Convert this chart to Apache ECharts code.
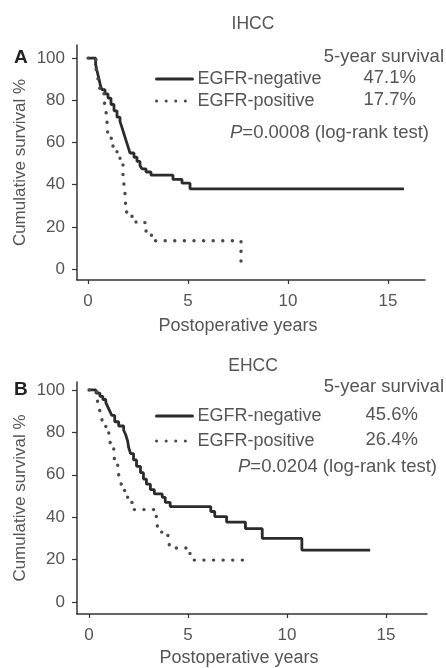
<!DOCTYPE html>
<html>
<head>
<meta charset="utf-8">
<script src="https://cdn.jsdelivr.net/npm/echarts@6/dist/echarts.min.js"></script>
<style>html,body{margin:0;padding:0;background:#fff}#c{width:446px;height:668px}</style>
</head>
<body>
<div id="c"></div>
<script>
// ---- data (years, survival %) ----
const ihccNeg = [[0,100],[0.38,97],[0.45,94],[0.55,90],[0.62,87],[0.7,85],[0.85,83],[1.0,81],[1.15,78],[1.3,75],[1.45,72],[1.6,70],[1.7,67],[1.8,64],[1.9,61],[2.0,58],[2.1,55],[2.3,53],[2.45,51],[2.6,49],[2.7,47.5],[2.9,46],[3.15,44.5],[4.25,42.5],[4.7,40.7],[5.1,38],[15.8,38]];
const ihccPos = [[0,100],[0.4,95],[0.5,90],[0.6,85],[0.8,80],[0.9,75],[0.95,70],[1.0,62],[1.25,58],[1.45,54],[1.6,50],[1.75,44],[1.85,36],[1.88,30],[1.9,27],[2.2,24.5],[2.4,22],[2.85,18],[3.1,16],[3.25,13.4],[7.65,0]];
const ehccNeg = [[0,100],[0.35,98.5],[0.55,97],[0.7,95.5],[0.85,94],[0.95,92],[1.05,90],[1.15,88],[1.3,85],[1.5,83],[1.75,81],[1.85,79],[1.95,76],[2.0,73],[2.1,70],[2.25,67],[2.4,64],[2.6,61],[2.75,58],[2.9,55.6],[3.1,53],[3.3,51],[3.7,49.4],[3.85,47],[4.1,45],[6.15,42.7],[6.35,40.3],[6.95,37.7],[7.9,34.6],[8.75,30],[10.75,24.5],[14.2,24.5]];
const ehccPos = [[0,100],[0.4,96],[0.5,92],[0.6,88],[0.7,84],[0.85,81],[1.0,78],[1.1,74],[1.25,70],[1.3,66],[1.45,62],[1.55,58],[1.65,55],[1.8,51],[1.95,47],[2.2,43.6],[3.4,40],[3.45,36],[3.5,33],[3.85,31.4],[4.0,29],[4.1,25.5],[5.1,21],[5.2,19.8],[7.9,19.8]];
const yTicks = [0,20,40,60,80,100];
const xTicks = [0,5,10,15];
const seriesNames = ['EGFR-negative','EGFR-positive'];
const pctA = ['47.1%','17.7%'];
const pctB = ['45.6%','26.4%'];
const pA = '0.0008';
const pB = '0.0204';

const FONT = 'Liberation Sans, Arial, Helvetica, sans-serif';
const txt = '#555';
const axisCol = '#333';

function xAx(idx, min, max, gap) {
  return {
    gridIndex: idx, type: 'value', min: min, max: max,
    axisLine: {onZero: false, lineStyle: {color: axisCol, width: 1.5}},
    axisTick: {show: true, length: 4, customValues: xTicks, lineStyle: {color: axisCol, width: 1.2}},
    axisLabel: {customValues: xTicks, margin: 13, color: txt, fontSize: 17, fontFamily: FONT},
    splitLine: {show: false},
    name: 'Postoperative years', nameLocation: 'middle', nameGap: gap, nameMoveOverlap: false,
    nameTextStyle: {color: txt, fontSize: 18, fontFamily: FONT, padding: [0, 26, 0, 0]}
  };
}
function yAx(idx, min, max) {
  return {
    gridIndex: idx, type: 'value', min: min, max: max,
    axisLine: {show: true, onZero: false, lineStyle: {color: axisCol, width: 1.5}},
    axisTick: {show: true, length: 5, customValues: yTicks, lineStyle: {color: axisCol, width: 1.2}},
    axisLabel: {customValues: yTicks, margin: 12, color: txt, fontSize: 17, fontFamily: FONT},
    splitLine: {show: false},
    name: 'Cumulative survival %', nameLocation: 'middle', nameGap: 48, nameMoveOverlap: false,
    nameTextStyle: {color: txt, fontSize: 17, fontFamily: FONT}
  };
}
const solidStyle = {color: '#2b2b2b', width: 2.8};
const dotStyle = {color: '#4a4a4a', width: 3.4, type: [0.1, 9.5], cap: 'round'};
function ser(name, data, idx, style) {
  return {name: name, type: 'line', step: 'end', symbol: 'none', xAxisIndex: idx, yAxisIndex: idx,
    data: data, lineStyle: style, itemStyle: {color: style.color}, silent: true, animation: false};
}
function legend(top, gap) {
  return {orient: 'vertical', left: 155, top: top, padding: 0, itemWidth: 36, itemHeight: 18, itemGap: gap,
    data: seriesNames, selectedMode: false,
    itemStyle: {opacity: 0},
    lineStyle: {width: 3, cap: 'round'},
    textStyle: {color: txt, fontSize: 18, fontFamily: FONT, lineHeight: 18}};
}
function t(x, y, s, extra) {
  return {type: 'text', x: x, y: y, style: Object.assign({text: s, fill: txt, font: '18.5px ' + FONT, verticalAlign: 'middle'}, extra || {})};
}
const pRich = {i: {fontStyle: 'italic', fontSize: 18.5, fontFamily: FONT, fill: txt}};

const chart = echarts.init(document.getElementById('c'), null, {renderer: 'canvas'});
chart.setOption({
  backgroundColor: '#fff',
  animation: false,
  title: [
    {text: 'IHCC', left: 248, top: 10, textAlign: 'center', textStyle: {color: txt, fontSize: 17.5, fontWeight: 'normal', fontFamily: FONT}},
    {text: 'EHCC', left: 248, top: 352, textAlign: 'center', textStyle: {color: txt, fontSize: 17.5, fontWeight: 'normal', fontFamily: FONT}}
  ],
  grid: [
    {left: 77, top: 45, width: 348, height: 235},
    {left: 77, top: 382, width: 350, height: 234}
  ],
  xAxis: [xAx(0, -0.55, 16.85, 37), xAx(1, -0.606, 17.07, 35)],
  yAxis: [yAx(0, -5.2, 106.2), yAx(1, -5.61, 103.74)],
  legend: [legend(70, 4), legend(407, 7)],
  series: [
    ser(seriesNames[0], ihccNeg, 0, solidStyle),
    ser(seriesNames[1], ihccPos, 0, dotStyle),
    ser(seriesNames[0], ehccNeg, 1, solidStyle),
    ser(seriesNames[1], ehccPos, 1, dotStyle)
  ],
  graphic: [
    t(14, 58, 'A', {fill: '#222', font: 'bold 19px ' + FONT}),
    t(14, 390, 'B', {fill: '#222', font: 'bold 19px ' + FONT}),
    t(444, 57, '5-year survival', {align: 'right'}),
    t(416, 78, pctA[0], {align: 'right'}),
    t(416, 100, pctA[1], {align: 'right'}),
    {type: 'text', x: 230, y: 133, style: {text: '{i|P}=' + pA + ' (log-rank test)', rich: pRich, fill: txt, font: '18.5px ' + FONT, verticalAlign: 'middle'}},
    t(444, 387, '5-year survival', {align: 'right'}),
    t(418, 415, pctB[0], {align: 'right'}),
    t(418, 440, pctB[1], {align: 'right'}),
    {type: 'text', x: 238, y: 467, style: {text: '{i|P}=' + pB + ' (log-rank test)', rich: pRich, fill: txt, font: '18.5px ' + FONT, verticalAlign: 'middle'}}
  ]
});
</script>
</body>
</html>
